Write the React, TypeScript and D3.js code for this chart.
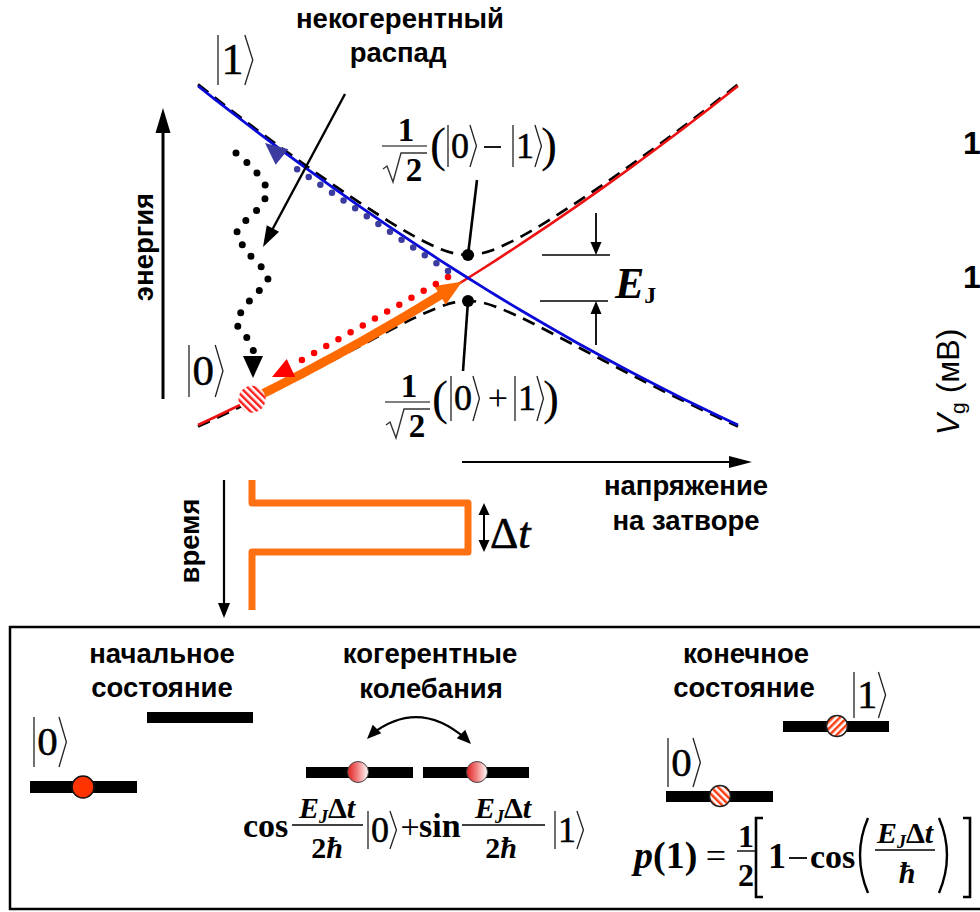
import React from "react";
import * as d3 from "d3";

const W = 980;
const H = 912;

// ---- energy-level diagram data (gate voltage, energy; arbitrary units) ----
const gateVoltage = [0, 2.7, 5.4, 8.1, 10.8, 13.5, 16.2, 18.9, 21.6, 24.3, 25.65, 27, 28.35, 29.7, 32.4, 35.1, 37.8, 40.5, 43.2, 45.9, 48.6, 51.3, 54];
const energyState0 = [0, 1.27, 2.58, 3.94, 5.34, 6.79, 8.28, 9.82, 11.4, 13.03, 13.86, 14.7, 15.55, 16.42, 18.18, 19.99, 21.84, 23.74, 25.68, 27.67, 29.7, 31.78, 33.9];
const energyState1 = [33.9, 31.78, 29.7, 27.67, 25.68, 23.74, 21.84, 19.99, 18.18, 16.42, 15.55, 14.7, 13.86, 13.03, 11.4, 9.82, 8.28, 6.79, 5.34, 3.94, 2.58, 1.27, 0];
const energyUpper = [34.06, 31.95, 29.89, 27.89, 25.94, 24.04, 22.22, 20.48, 18.89, 17.58, 17.16, 17.0, 17.16, 17.58, 18.89, 20.48, 22.22, 24.04, 25.94, 27.89, 29.89, 31.95, 34.06];
const energyLower = [-0.16, 1.09, 2.39, 3.71, 5.08, 6.48, 7.9, 9.32, 10.69, 11.86, 12.26, 12.4, 12.26, 11.86, 10.69, 9.32, 7.9, 6.48, 5.08, 3.71, 2.39, 1.09, -0.16];

// operating points
const startVoltage = 5.4;
const degeneracyVoltage = 27;
const orangeTipVoltage = 26.4;
const orangeBaseVoltage = 24.2;

// incoherent decay (dotted wave) waypoints
const decayPath: [number, number][] = [[3.8, 27.2], [5.9, 25.2], [6.9, 23.3], [5.9, 21.5], [3.9, 19.3], [5.2, 17.0], [7.0, 14.7], [5.2, 12.5], [3.9, 10.2], [5.2, 8.3], [5.6, 7.2]];
const decayHead: [number, number][] = [[5.5, 4.7], [5.5, 6.9]];
const blueDots: [number, number][] = [[25.0, 15.4], [9.0, 26.2]];
const blueHead: [number, number][] = [[6.7, 28.2], [8.4, 26.8]];
const redDots: [number, number][] = [[25.0, 14.8], [9.5, 6.0]];
const redHead: [number, number][] = [[7.4, 4.8], [9.3, 5.7]];

// gate pulse: voltage vs time
const pulseVoltage = [5.4, 5.4, 27, 27, 5.4, 5.4];
const pulseTime = [0, 23, 23, 72, 72, 130];

const SANS = "Liberation Sans, Arial, sans-serif";
const SERIF = "Liberation Serif, Times New Roman, serif";

const x = d3.scaleLinear().domain([0, 54]).range([198, 738]);
const y = d3.scaleLinear().domain([0, 34]).range([425, 85]);
const tScale = d3.scaleLinear().domain([0, 130]).range([480, 610]);
const e0 = d3.scaleLinear().domain(gateVoltage).range(energyState0);

const P = (d: [number, number]): [number, number] => [x(d[0]), y(d[1])];

const lineGen = d3
  .line<[number, number]>()
  .x((d) => x(d[0]))
  .y((d) => y(d[1]))
  .curve(d3.curveCatmullRom);

const straight = d3.line<[number, number]>();

function headPath(tip: [number, number], base: [number, number], hw: number) {
  const dx = tip[0] - base[0];
  const dy = tip[1] - base[1];
  const L = Math.hypot(dx, dy) || 1;
  const nx = -dy / L;
  const ny = dx / L;
  return `M${tip[0]},${tip[1]}L${base[0] + nx * hw},${base[1] + ny * hw}L${base[0] - nx * hw},${base[1] - ny * hw}Z`;
}

function Arrow({ from, to, len, hw, sw = 2.2, color = "#000" }: { from: [number, number]; to: [number, number]; len: number; hw: number; sw?: number; color?: string }) {
  const dx = to[0] - from[0];
  const dy = to[1] - from[1];
  const L = Math.hypot(dx, dy);
  const base: [number, number] = [to[0] - (dx / L) * len, to[1] - (dy / L) * len];
  return (
    <g>
      <line x1={from[0]} y1={from[1]} x2={base[0] + (dx / L) * 2} y2={base[1] + (dy / L) * 2} stroke={color} strokeWidth={sw} />
      <path d={headPath(to, base, hw)} fill={color} />
    </g>
  );
}

function Ket({ x: bx, y0, y1, d, fs }: { x: number; y0: number; y1: number; d: string; fs: number }) {
  const mid = (y0 + y1) / 2;
  const dx = bx + fs * 0.08;
  const ax = dx + fs * 0.5 + fs * 0.03;
  return (
    <g>
      <line x1={bx} x2={bx} y1={y0} y2={y1} stroke="#222" strokeWidth={1.3} />
      <text x={dx} y={mid + fs * 0.32} fontFamily={SERIF} fontSize={fs} stroke="#000" strokeWidth={0.5}>
        {d}
      </text>
      <path d={`M${ax},${y0}L${ax + fs * 0.18},${mid}L${ax},${y1}`} fill="none" stroke="#222" strokeWidth={1.3} />
    </g>
  );
}

function EJdt({ cx, yb, fs, dt = true }: { cx: number; yb: number; fs: number; dt?: boolean }) {
  return (
    <text x={cx} y={yb} textAnchor="middle" fontFamily={SERIF} fontWeight="bold" fontSize={fs}>
      <tspan fontStyle="italic">E</tspan>
      <tspan fontStyle="italic" fontSize={fs * 0.6} dy={fs * 0.18}>J</tspan>
      {dt ? <tspan dy={-fs * 0.18}>Δ</tspan> : null}
      {dt ? <tspan fontStyle="italic">t</tspan> : null}
    </text>
  );
}

function InvSqrt2({ cx, barY }: { cx: number; barY: number }) {
  const l = cx - 22;
  const r = cx + 23;
  return (
    <g>
      <text x={cx + 2} y={barY - 5} textAnchor="middle" fontFamily={SERIF} fontWeight="bold" fontSize={33}>1</text>
      <line x1={l} x2={r} y1={barY} y2={barY} stroke="#555" strokeWidth={1.4} />
      <path d={`M${l + 1},${barY + 23}L${l + 5},${barY + 20}L${l + 11},${barY + 36}L${l + 19},${barY + 7}L${r},${barY + 7}`} fill="none" stroke="#333" strokeWidth={1.4} />
      <text x={cx + 10} y={barY + 35} textAnchor="middle" fontFamily={SERIF} fontWeight="bold" fontSize={33}>2</text>
    </g>
  );
}

export default function App() {
  const [c0x, c0y] = P([degeneracyVoltage, energyUpper[11]]);
  const [, c1y] = P([degeneracyVoltage, energyLower[11]]);

  const state0: [number, number][] = gateVoltage.map((v, i) => [v, energyState0[i]]);
  const state1: [number, number][] = gateVoltage.map((v, i) => [v, energyState1[i]]);
  const upper: [number, number][] = gateVoltage.map((v, i) => [v, energyUpper[i]]);
  const lower: [number, number][] = gateVoltage.map((v, i) => [v, energyLower[i]]);

  const orangeShaft: [number, number][] = d3.range(startVoltage, orangeBaseVoltage + 1.2, 1).map((v) => [v, e0(v)]);
  const orangeTip = P([orangeTipVoltage, e0(orangeTipVoltage)]);
  const orangeBase = P([orangeBaseVoltage, e0(orangeBaseVoltage)]);

  const pulsePts: [number, number][] = pulseVoltage.map((v, i) => [x(v), tScale(pulseTime[i])]);

  const ball1 = P([startVoltage, energyState1[gateVoltage.indexOf(48.6)]]);
  const ball0 = P([startVoltage, e0(startVoltage)]);

  const ejLeft = x(34.4);
  const ejRight = x(41.2);
  const ejArrowX = x(39.8);

  const textBold = { fontFamily: SANS, fontWeight: "bold" as const, fontSize: 27.5 };

  return (
    <div style={{ position: "absolute", left: 0, top: 0, width: W, height: H, overflow: "hidden", background: "#fff" }}>
      <svg width={W} height={H} viewBox={`0 0 ${W} ${H}`} style={{ display: "block" }}>
        <defs>
          <pattern id="hatchBlue" patternUnits="userSpaceOnUse" width={5} height={5} patternTransform="rotate(-45)">
            <rect width={5} height={5} fill="#fff" />
            <rect width={2.4} height={5} fill="#2f2f9a" />
          </pattern>
          <pattern id="hatchRed" patternUnits="userSpaceOnUse" width={5} height={5} patternTransform="rotate(-45)">
            <rect width={5} height={5} fill="#fff" />
            <rect width={2.4} height={5} fill="#ff1a1a" />
          </pattern>
          <pattern id="hatchA" patternUnits="userSpaceOnUse" width={5} height={5} patternTransform="rotate(45)">
            <rect width={5} height={5} fill="#fff" />
            <rect width={2.5} height={5} fill="#ff3d10" />
          </pattern>
          <pattern id="hatchB" patternUnits="userSpaceOnUse" width={5} height={5} patternTransform="rotate(-45)">
            <rect width={5} height={5} fill="#fff" />
            <rect width={2.5} height={5} fill="#ff3d10" />
          </pattern>
          <linearGradient id="grad" x1="0" x2="1" y1="0" y2="0">
            <stop offset="0" stopColor="#e01f1f" />
            <stop offset="0.45" stopColor="#f07a7a" />
            <stop offset="1" stopColor="#ffffff" />
          </linearGradient>
        </defs>

        {/* axes of the energy diagram */}
        <Arrow from={P([-3.5, 2.6])} to={P([-3.5, 31.7])} len={25} hw={7.5} sw={3} />
        <Arrow from={P([26.4, -3.7])} to={P([55.4, -3.7])} len={23} hw={6} sw={2.2} />
        <text transform="translate(153,247) rotate(-90)" textAnchor="middle" {...textBold}>энергия</text>
        <text x={686} y={495} textAnchor="middle" {...textBold}>напряжение</text>
        <text x={686} y={530} textAnchor="middle" {...textBold}>на затворе</text>

        {/* dashed anticrossing branches */}
        <path d={lineGen(upper) || ""} fill="none" stroke="#000" strokeWidth={2.7} strokeDasharray="13 8" />
        <path d={lineGen(lower) || ""} fill="none" stroke="#000" strokeWidth={2.7} strokeDasharray="13 8" />

        {/* charge states */}
        <path d={lineGen(state0) || ""} fill="none" stroke="#ee1111" strokeWidth={2.6} />
        <path d={lineGen(state1) || ""} fill="none" stroke="#0a0ad8" strokeWidth={2.8} />

        {/* orange arrow (fast pulse) */}
        <path d={lineGen(orangeShaft) || ""} fill="none" stroke="#ff6a00" strokeWidth={9} />
        <path d={headPath(orangeTip, orangeBase, 11)} fill="#ff6a00" />

        {/* dotted returns */}
        <path d={straight(redDots.map(P)) || ""} fill="none" stroke="#ff0000" strokeWidth={6.5} strokeLinecap="round" strokeDasharray="0 14" />
        <path d={headPath(P(redHead[0]), P(redHead[1]), 10)} fill="#ff0000" />
        <path d={straight(blueDots.map(P)) || ""} fill="none" stroke="#3b3ba0" strokeWidth={6.5} strokeLinecap="round" strokeDasharray="0 14" />
        <path d={headPath(P(blueHead[0]), P(blueHead[1]), 10)} fill="#3b3ba0" />

        {/* incoherent decay */}
        <path d={lineGen(decayPath) || ""} fill="none" stroke="#000" strokeWidth={7} strokeLinecap="round" strokeDasharray="0 14.5" />
        <path d={headPath(P(decayHead[0]), P(decayHead[1]), 10)} fill="#000" />

        {/* balls */}
        <circle cx={ball1[0]} cy={ball1[1]} r={12.5} fill="url(#hatchBlue)" />
        <circle cx={ball0[0]} cy={ball0[1]} r={13.5} fill="url(#hatchRed)" />

        {/* pointer for "некогерентный распад" */}
        <Arrow from={P([14.7, 33.1])} to={P([6.5, 17.8])} len={21} hw={7} sw={2.4} />
        <text x={400} y={28} textAnchor="middle" {...textBold}>некогерентный</text>
        <text x={398} y={62} textAnchor="middle" {...textBold}>распад</text>

        {/* kets on energy diagram */}
        <Ket x={218} y0={35} y1={85} d="1" fs={44} />
        <Ket x={189} y0={345} y1={397} d="0" fs={43} />

        {/* degeneracy points and leaders */}
        <line x1={477} y1={180} x2={c0x} y2={c0y} stroke="#000" strokeWidth={2.6} />
        <line x1={c0x} y1={c1y} x2={463} y2={371} stroke="#000" strokeWidth={2.6} />
        <circle cx={c0x} cy={c0y} r={6} fill="#000" />
        <circle cx={c0x} cy={c1y} r={6} fill="#000" />

        {/* upper superposition */}
        <InvSqrt2 cx={404} barY={146} />
        <text x={430} y={161} fontFamily={SERIF} fontSize={48}>(</text>
        <Ket x={448} y0={125} y1={167} d="0" fs={36} />
        <line x1={484} x2={501} y1={147} y2={147} stroke="#000" strokeWidth={1.8} />
        <Ket x={513} y0={125} y1={167} d="1" fs={36} />
        <text x={541} y={161} fontFamily={SERIF} fontSize={48}>)</text>

        {/* lower superposition */}
        <InvSqrt2 cx={407} barY={402} />
        <text x={432} y={414} fontFamily={SERIF} fontSize={48}>(</text>
        <Ket x={451} y0={376} y1={421} d="0" fs={36} />
        <text x={498} y={410} textAnchor="middle" fontFamily={SERIF} fontSize={36}>+</text>
        <Ket x={515} y0={376} y1={421} d="1" fs={36} />
        <text x={543} y={414} fontFamily={SERIF} fontSize={48}>)</text>

        {/* E_J gap marker */}
        <line x1={ejLeft} x2={ejRight} y1={c0y} y2={c0y} stroke="#000" strokeWidth={1.6} />
        <line x1={ejLeft - 2} x2={ejRight - 2} y1={c1y} y2={c1y} stroke="#000" strokeWidth={1.6} />
        <Arrow from={[ejArrowX, 213]} to={[ejArrowX, c0y]} len={13} hw={5.5} sw={1.8} />
        <Arrow from={[ejArrowX, 345]} to={[ejArrowX, c1y]} len={13} hw={5.5} sw={1.8} />
        <text x={615} y={298} fontFamily={SERIF} fontWeight="bold" fontSize={44}>
          <tspan fontStyle="italic">E</tspan>
          <tspan fontSize={24} dy={5}>J</tspan>
        </text>

        {/* time axis and pulse */}
        <Arrow from={[224, 480]} to={[224, 618]} len={15} hw={6} sw={2.2} />
        <text transform="translate(199,541) rotate(-90)" textAnchor="middle" {...textBold}>время</text>
        <path d={straight(pulsePts) || ""} fill="none" stroke="#ff7010" strokeWidth={7} strokeLinejoin="round" />
        <Arrow from={[484, 528]} to={[484, tScale(23)]} len={12} hw={5.5} sw={2} />
        <Arrow from={[484, 528]} to={[484, tScale(72)]} len={12} hw={5.5} sw={2} />
        <text x={490} y={548} fontFamily={SERIF} fontSize={44} stroke="#000" strokeWidth={0.6}>
          <tspan>Δ</tspan>
          <tspan fontStyle="italic">t</tspan>
        </text>

        {/* cropped right panel */}
        <text x={963} y={154} fontFamily={SANS} fontWeight="bold" fontSize={32}>1</text>
        <text x={963} y={288} fontFamily={SANS} fontWeight="bold" fontSize={32}>1</text>
        <text transform="translate(959,382) rotate(-90)" textAnchor="middle" fontFamily={SANS} fontSize={32}>
          <tspan fontStyle="italic">V</tspan>
          <tspan fontSize={21} dy={6}>g</tspan>
          <tspan dy={-6}> (мВ)</tspan>
        </text>

        {/* bottom box */}
        <rect x={10} y={627} width={990} height={282} fill="none" stroke="#000" strokeWidth={2.5} />

        <text x={162} y={663} textAnchor="middle" {...textBold}>начальное</text>
        <text x={162} y={697} textAnchor="middle" {...textBold}>состояние</text>
        <rect x={147} y={712} width={106} height={11} fill="#000" />
        <Ket x={34} y0={717} y1={767} d="0" fs={41} />
        <rect x={30} y={781} width={107} height={12} fill="#000" />
        <circle cx={83} cy={787} r={11} fill="#ff3300" stroke="#111" strokeWidth={1.5} />

        <text x={430} y={663} textAnchor="middle" {...textBold}>когерентные</text>
        <text x={431} y={698} textAnchor="middle" {...textBold}>колебания</text>
        <path d="M372,734 Q419,698 466,739" fill="none" stroke="#000" strokeWidth={2.2} />
        <path d={headPath([367, 739], [377, 729], 6)} fill="#000" />
        <path d={headPath([471, 744], [461, 734], 6)} fill="#000" />
        <rect x={306} y={767} width={107} height={11} fill="#000" />
        <rect x={423} y={767} width={106} height={11} fill="#000" />
        <circle cx={358} cy={772} r={10.5} fill="url(#grad)" stroke="#444" strokeWidth={1} />
        <circle cx={477} cy={772} r={10.5} fill="url(#grad)" stroke="#444" strokeWidth={1} />

        {/* cos/sin superposition formula */}
        <text x={243} y={837} fontFamily={SERIF} fontWeight="bold" fontSize={34}>cos</text>
        <EJdt cx={327} yb={818} fs={30} />
        <line x1={292} x2={363} y1={825} y2={825} stroke="#000" strokeWidth={1.4} />
        <text x={327} y={858} textAnchor="middle" fontFamily={SERIF} fontWeight="bold" fontSize={30}>
          2<tspan fontStyle="italic">ħ</tspan>
        </text>
        <Ket x={368} y0={811} y1={849} d="0" fs={36} />
        <text x={410} y={838} textAnchor="middle" fontFamily={SERIF} fontSize={34}>+</text>
        <text x={419} y={837} fontFamily={SERIF} fontWeight="bold" fontSize={34}>sin</text>
        <EJdt cx={503} yb={818} fs={30} />
        <line x1={462} x2={545} y1={825} y2={825} stroke="#000" strokeWidth={1.4} />
        <text x={501} y={858} textAnchor="middle" fontFamily={SERIF} fontWeight="bold" fontSize={30}>
          2<tspan fontStyle="italic">ħ</tspan>
        </text>
        <Ket x={555} y0={811} y1={849} d="1" fs={36} />

        {/* final state */}
        <text x={746} y={663} textAnchor="middle" {...textBold}>конечное</text>
        <text x={744} y={697} textAnchor="middle" {...textBold}>состояние</text>
        <Ket x={854} y0={672} y1={718} d="1" fs={40} />
        <rect x={783} y={721} width={106} height={11} fill="#000" />
        <circle cx={837} cy={726} r={10.5} fill="url(#hatchA)" stroke="#222" strokeWidth={1.5} />
        <Ket x={668} y0={738} y1={787} d="0" fs={41} />
        <rect x={666} y={791} width={107} height={11} fill="#000" />
        <circle cx={720} cy={796} r={10.5} fill="url(#hatchB)" stroke="#222" strokeWidth={1.5} />

        {/* p(1) formula */}
        <text x={634} y={868} fontFamily={SERIF} fontWeight="bold" fontSize={38}>
          <tspan fontStyle="italic">p</tspan>(1)
        </text>
        <text x={716} y={868} textAnchor="middle" fontFamily={SERIF} fontSize={36}>=</text>
        <text x={746} y={847} textAnchor="middle" fontFamily={SERIF} fontWeight="bold" fontSize={32}>1</text>
        <line x1={737} x2={756} y1={851} y2={851} stroke="#000" strokeWidth={1.4} />
        <text x={746} y={886} textAnchor="middle" fontFamily={SERIF} fontWeight="bold" fontSize={32}>2</text>
        <path d="M763,818L756,818L756,897L763,897" fill="none" stroke="#000" strokeWidth={2.6} />
        <text x={768} y={868} fontFamily={SERIF} fontWeight="bold" fontSize={36}>1</text>
        <line x1={789} x2={807} y1={858} y2={858} stroke="#000" strokeWidth={1.8} />
        <text x={810} y={868} fontFamily={SERIF} fontWeight="bold" fontSize={34}>cos</text>
        <path d="M868,818Q852,855 868,893" fill="none" stroke="#000" strokeWidth={2.4} />
        <EJdt cx={905} yb={843} fs={30} />
        <line x1={875} x2={935} y1={850} y2={850} stroke="#000" strokeWidth={1.4} />
        <text x={907} y={883} textAnchor="middle" fontFamily={SERIF} fontWeight="bold" fontStyle="italic" fontSize={30}>ħ</text>
        <path d="M939,818Q955,855 939,893" fill="none" stroke="#000" strokeWidth={2.4} />
        <path d="M963,818L970,818L970,897L963,897" fill="none" stroke="#000" strokeWidth={2.6} />
      </svg>
    </div>
  );
}
